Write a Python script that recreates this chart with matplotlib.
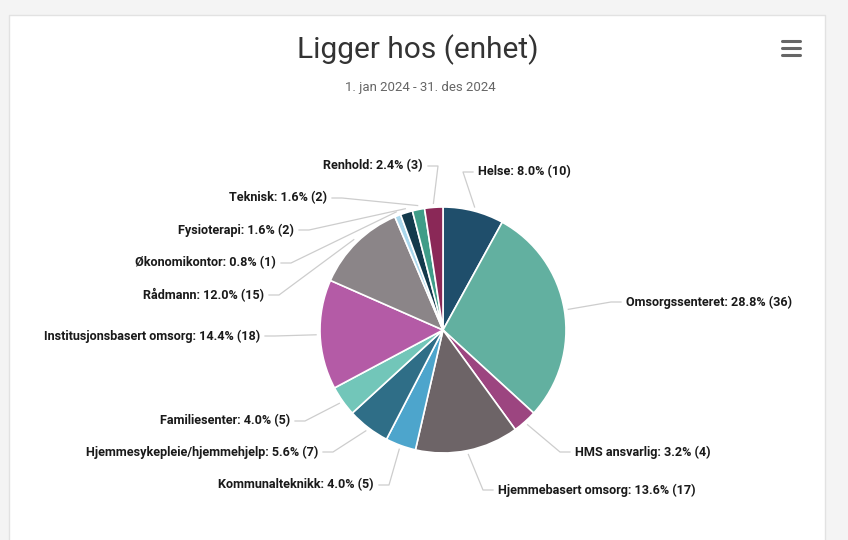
import numpy as np
import matplotlib.pyplot as plt
from matplotlib.patches import Rectangle

# data, clockwise from 12 o'clock
units = ['Helse', 'Omsorgssenteret', 'HMS ansvarlig', 'Hjemmebasert omsorg',
         'Kommunalteknikk', 'Hjemmesykepleie/hjemmehjelp', 'Familiesenter',
         'Institusjonsbasert omsorg', 'Rådmann', 'Økonomikontor', 'Fysioterapi',
         'Teknisk', 'Renhold']
counts = [10, 36, 4, 17, 5, 7, 5, 18, 15, 1, 2, 2, 3]
colors = ['#1f4e6b', '#62b0a0', '#9c4580', '#6d6467', '#4da5cc', '#2f6e87',
          '#72c6b9', '#b45ba6', '#8b8588', '#a9d7ec', '#133a4c', '#3f9d88',
          '#8a2857']

title = 'Ligger hos (enhet)'
subtitle = '1. jan 2024 - 31. des 2024'

# label layout (pixel positions, y from top): x, y, side
label_pos = {
    'Helse': (478, 172, 'left'),
    'Omsorgssenteret': (626, 302, 'left'),
    'HMS ansvarlig': (575, 452, 'left'),
    'Hjemmebasert omsorg': (498, 490, 'left'),
    'Kommunalteknikk': (374, 485, 'right'),
    'Hjemmesykepleie/hjemmehjelp': (318, 452, 'right'),
    'Familiesenter': (290, 421, 'right'),
    'Institusjonsbasert omsorg': (260, 336, 'right'),
    'Rådmann': (264, 295, 'right'),
    'Økonomikontor': (276, 263, 'right'),
    'Fysioterapi': (294, 230, 'right'),
    'Teknisk': (327, 198, 'right'),
    'Renhold': (423, 166, 'right'),
}

W, H = 848, 540
cx, cy, r = 443, H - 330, 123

plt.rcParams['font.family'] = ['Roboto', 'DejaVu Sans']

fig = plt.figure(figsize=(8.48, 5.4), dpi=100)
fig.patch.set_facecolor('#f4f4f4')
ax = fig.add_axes([0, 0, 1, 1])

# card
ax.add_patch(Rectangle((9, -5), 816, H - 10, facecolor='white',
                       edgecolor='#e2e2e2', lw=1, zorder=0))

ax.pie(counts, colors=colors, startangle=90, counterclock=False,
       center=(cx, cy), radius=r,
       wedgeprops=dict(edgecolor='white', linewidth=1.2), frame=True)
ax.set_xlim(0, W)
ax.set_ylim(0, H)
ax.set_aspect('equal')
ax.axis('off')

total = sum(counts)
start = 90.0
for name, c in zip(units, counts):
    sweep = 360.0 * c / total
    mid = np.deg2rad(start - sweep / 2)
    start -= sweep
    ex = cx + (r + 4) * np.cos(mid)
    ey = cy + (r + 4) * np.sin(mid)
    lx, ly, side = label_pos[name]
    ly = H - ly
    pct = 100.0 * c / total
    ax.text(lx, ly, f'{name}: {pct:.1f}% ({c})', ha=side, va='center',
            fontsize=9.1, fontweight='bold', color='#1a1a1a')
    if side == 'left':
        kx = lx - 5
        bx = kx - 10
    else:
        kx = lx + 5
        bx = kx + 10
    ax.plot([kx, bx, ex], [ly, ly, ey], color='#cdcdcd', lw=0.9, zorder=1)

ax.text(418, H - 50, title, ha='center', va='center', fontsize=21.5,
        color='#333333')
ax.text(420, H - 88, subtitle, ha='center', va='center', fontsize=9.5,
        color='#666666')

# menu icon
for yy in (41, 48, 55):
    ax.plot([782, 800], [H - yy, H - yy], color='#666666', lw=2.2,
            solid_capstyle='round')

fig.savefig('out.png', dpi=100, facecolor=fig.get_facecolor())
